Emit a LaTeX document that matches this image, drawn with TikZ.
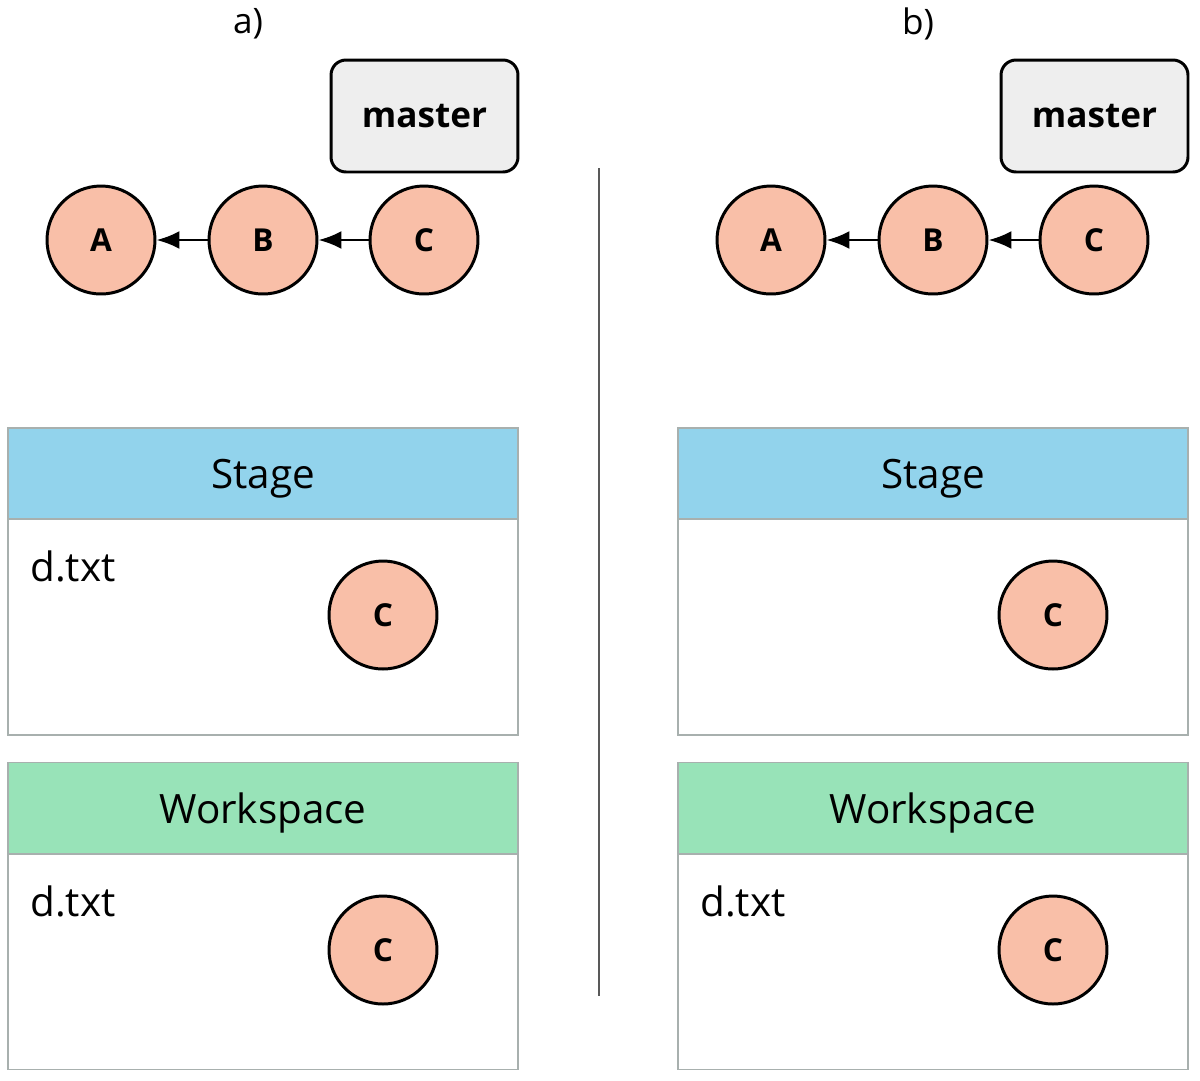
\documentclass[tikz,border=0pt]{standalone}
\usepackage{fontspec}
\setmainfont{Open Sans}
\usetikzlibrary{arrows.meta}
\definecolor{commitfill}{HTML}{F9BFA8}
\definecolor{branchfill}{HTML}{EEEEEE}
\definecolor{stagefill}{HTML}{92D3EC}
\definecolor{workfill}{HTML}{98E3B8}
\definecolor{areaborder}{HTML}{A8B0AE}
\begin{document}
\begin{tikzpicture}[x=0.02cm,y=-0.02cm,
    commit/.style={circle,draw=black,line width=1.7pt,fill=commitfill,minimum size=2.16cm,inner sep=0pt,font=\fontsize{18}{18}\selectfont\bfseries},
    branch/.style={rectangle,rounded corners=0.3cm,draw=black,line width=1.7pt,fill=branchfill,minimum width=3.74cm,minimum height=2.24cm,font=\fontsize{20}{20}\selectfont\bfseries},
    areahead/.style={rectangle,draw=areaborder,line width=1.1pt,minimum width=10.2cm,minimum height=1.82cm,text depth=0pt,font=\fontsize{23}{23}\selectfont},
    areabody/.style={rectangle,draw=areaborder,line width=1.1pt,fill=white,minimum width=10.2cm,minimum height=4.32cm},
    filename/.style={anchor=base west,inner sep=0pt,font=\fontsize{23}{23}\selectfont},
    panel/.style={font=\fontsize{20}{20}\selectfont},
    parent/.style={-{Latex[length=0.46cm,width=0.36cm]},line width=1.5pt}]
    \useasboundingbox (0,0) rectangle (1200,1080);

    \node[panel] (alabel) at (248,24) {a)};
    \node[panel] (blabel) at (918,24) {b)};

    \node[branch] (amaster) at (424.5,116) {master};
    \node[commit] (aA) at (101,240) {A};
    \node[commit] (aB) at (263,240) {B};
    \node[commit] (aC) at (424,240) {C};
    \draw[parent] (aB) -- (aA);
    \draw[parent] (aC) -- (aB);

    \node[areahead,fill=stagefill] (astagehead) at (263,473.5) {Stage};
    \node[areabody] (astagebody) at (263,627) {};
    \node[filename] (astagefile) at (30,581) {d.txt};
    \node[commit] (astagec) at (383,615) {C};

    \node[areahead,fill=workfill] (aworkhead) at (263,808) {Workspace};
    \node[areabody] (aworkbody) at (263,961.5) {};
    \node[filename] (aworkfile) at (30,916) {d.txt};
    \node[commit] (aworkc) at (383,950) {C};

    \coordinate (divtop) at (599,168);
    \coordinate (divbot) at (599,996);
    \draw[line width=1.1pt,black!65] (divtop) -- (divbot);

    \node[branch] (bmaster) at (1094.5,116) {master};
    \node[commit] (bA) at (771,240) {A};
    \node[commit] (bB) at (933,240) {B};
    \node[commit] (bC) at (1094,240) {C};
    \draw[parent] (bB) -- (bA);
    \draw[parent] (bC) -- (bB);

    \node[areahead,fill=stagefill] (bstagehead) at (933,473.5) {Stage};
    \node[areabody] (bstagebody) at (933,627) {};
    \node[commit] (bstagec) at (1053,615) {C};

    \node[areahead,fill=workfill] (bworkhead) at (933,808) {Workspace};
    \node[areabody] (bworkbody) at (933,961.5) {};
    \node[filename] (bworkfile) at (700,916) {d.txt};
    \node[commit] (bworkc) at (1053,950) {C};
\end{tikzpicture}
\end{document}
